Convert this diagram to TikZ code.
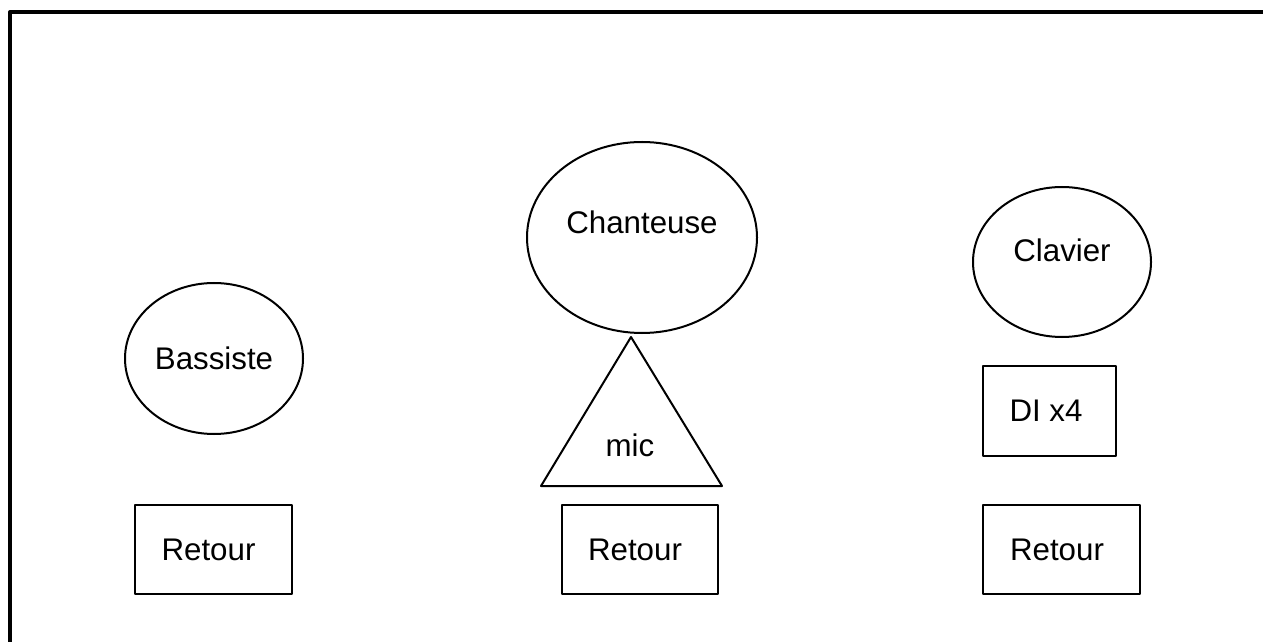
\documentclass[tikz,border=0pt]{standalone}
\usepackage{fontspec}
\setmainfont{Liberation Sans}
\usetikzlibrary{shapes.geometric}
\begin{document}
\begin{tikzpicture}[x=0.2mm,y=-0.2mm,line width=0.4mm,line join=round,font=\fontsize{17.8}{21}\selectfont,
 perso/.style={draw,ellipse,inner sep=0pt},
 boite/.style={draw,rectangle,inner sep=0pt,minimum height=17.8mm}]
\useasboundingbox(0,0)rectangle(1263,642);
\draw[line width=0.65mm](10,12)rectangle(1400,800);
\node[perso,minimum width=35.6mm,minimum height=30.2mm](bassiste)at(214,358.5){Bassiste};
\node[perso,minimum width=46mm,minimum height=38.2mm,label={[yshift=3.1mm]center:Chanteuse}](chanteuse)at(642,237.5){};
\node[perso,minimum width=35.6mm,minimum height=30mm,label={[yshift=2.4mm]center:Clavier}](clavier)at(1062,262){};
\draw(631,337)coordinate(micH)--(722,486)coordinate(micD)--(541,486)coordinate(micG)--cycle;
\node(mic)at(630,445){mic};
\node[boite,minimum width=26.6mm,label={[xshift=-0.7mm]center:DI x4}](di)at(1049.5,411){};
\node[boite,minimum width=31.4mm,label={[xshift=-1mm]center:Retour}](retourB)at(213.5,549.5){};
\node[boite,minimum width=31.2mm,label={[xshift=-1mm]center:Retour}](retourC)at(640,549.5){};
\node[boite,minimum width=31.4mm,label={[xshift=-0.9mm]center:Retour}](retourK)at(1061.5,549.5){};
\end{tikzpicture}
\end{document}
